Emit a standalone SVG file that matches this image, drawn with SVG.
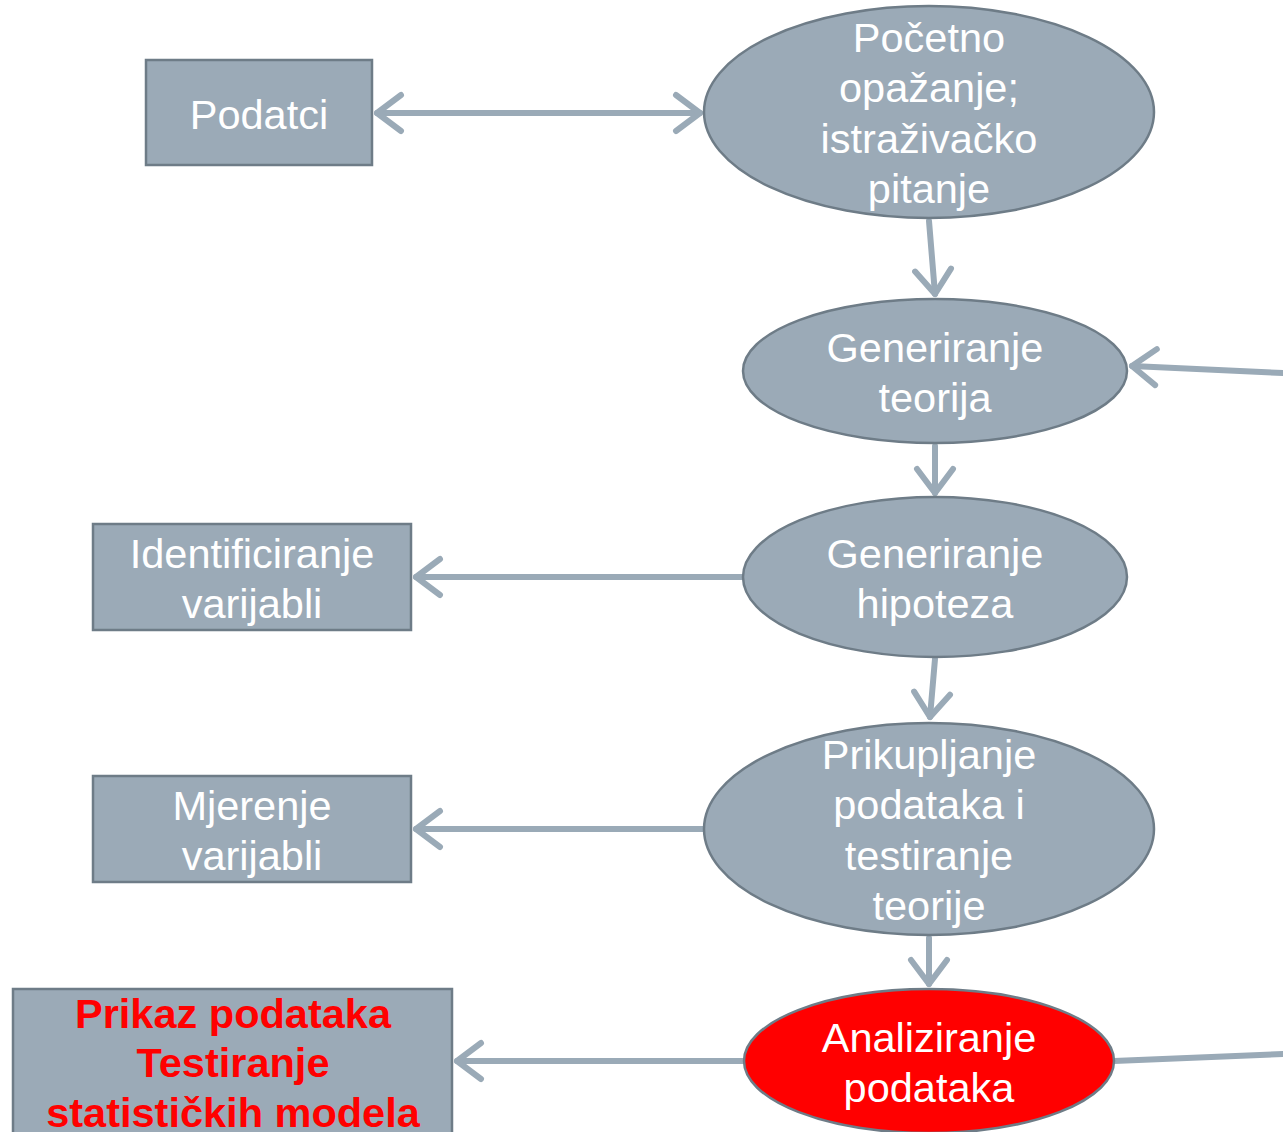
<svg xmlns="http://www.w3.org/2000/svg" width="1283" height="1132" viewBox="0 0 1283 1132">
<defs>
<style>
.box{fill:#9BAAB7;stroke:#6E7C87;stroke-width:2.5}
.red{fill:#FF0000;stroke:#6E7C87;stroke-width:2.5}
.t{font-family:"Liberation Sans",Arial,sans-serif;font-size:41.5px;fill:#FFFFFF;text-anchor:middle}
.tb{font-family:"Liberation Sans",Arial,sans-serif;font-size:41.5px;font-weight:bold;fill:#FF0000;text-anchor:middle}
.c{stroke:#9AAAB7;stroke-width:6;fill:none;stroke-linecap:round;stroke-linejoin:round}
</style>
<marker id="ah" viewBox="0 0 12 14" refX="11" refY="7" markerWidth="12" markerHeight="14" markerUnits="userSpaceOnUse" orient="auto-start-reverse" overflow="visible">
<polyline points="-24,-11 0,7 -24,25" transform="translate(11,0)" stroke="#9AAAB7" stroke-width="6" fill="none" stroke-linecap="round" stroke-linejoin="round"/>
</marker>
</defs>
<rect width="1283" height="1132" fill="#FFFFFF"/>
<g id="connectors">
<line class="c" x1="377" y1="113" x2="700" y2="113" marker-start="url(#ah)" marker-end="url(#ah)"/>
<line class="c" x1="929" y1="221" x2="935" y2="294" marker-end="url(#ah)"/>
<line class="c" x1="1283" y1="373" x2="1132" y2="366" marker-end="url(#ah)"/>
<line class="c" x1="935" y1="446" x2="935" y2="493" marker-end="url(#ah)"/>
<line class="c" x1="743" y1="577" x2="416" y2="577" marker-end="url(#ah)"/>
<line class="c" x1="935" y1="659" x2="930" y2="717" marker-end="url(#ah)"/>
<line class="c" x1="703" y1="829" x2="416" y2="829" marker-end="url(#ah)"/>
<line class="c" x1="929" y1="938" x2="929" y2="984" marker-end="url(#ah)"/>
<line class="c" x1="744" y1="1061" x2="457" y2="1061" marker-end="url(#ah)"/>
<line class="c" x1="1114" y1="1061" x2="1283" y2="1054" stroke-linecap="butt"/>
</g>
<g id="podatci">
<rect class="box" x="146" y="60" width="226" height="105"/>
<text class="t" x="259" y="129">Podatci</text>
</g>
<g id="pocetno">
<ellipse class="box" cx="929" cy="112" rx="225" ry="106"/>
<text class="t" x="929" y="52">Početno</text>
<text class="t" x="929" y="102">opažanje;</text>
<text class="t" x="929" y="153">istraživačko</text>
<text class="t" x="929" y="203">pitanje</text>
</g>
<g id="teorija">
<ellipse class="box" cx="935" cy="371" rx="192" ry="72"/>
<text class="t" x="935" y="362">Generiranje</text>
<text class="t" x="935" y="412">teorija</text>
</g>
<g id="hipoteza">
<ellipse class="box" cx="935" cy="577" rx="192" ry="80"/>
<text class="t" x="935" y="568">Generiranje</text>
<text class="t" x="935" y="618">hipoteza</text>
</g>
<g id="identificiranje">
<rect class="box" x="93" y="524" width="318" height="106"/>
<text class="t" x="252" y="568">Identificiranje</text>
<text class="t" x="252" y="618">varijabli</text>
</g>
<g id="prikupljanje">
<ellipse class="box" cx="929" cy="829" rx="225" ry="106"/>
<text class="t" x="929" y="769">Prikupljanje</text>
<text class="t" x="929" y="819">podataka i</text>
<text class="t" x="929" y="870">testiranje</text>
<text class="t" x="929" y="920">teorije</text>
</g>
<g id="mjerenje">
<rect class="box" x="93" y="776" width="318" height="106"/>
<text class="t" x="252" y="820">Mjerenje</text>
<text class="t" x="252" y="870">varijabli</text>
</g>
<g id="analiziranje">
<ellipse class="red" cx="929" cy="1061" rx="185" ry="72"/>
<text class="t" x="929" y="1052">Analiziranje</text>
<text class="t" x="929" y="1102">podataka</text>
</g>
<g id="prikaz">
<rect class="box" x="13" y="989" width="439" height="160"/>
<text class="tb" x="233" y="1028">Prikaz podataka</text>
<text class="tb" x="233" y="1077">Testiranje</text>
<text class="tb" x="233" y="1127">statističkih modela</text>
</g>
</svg>
